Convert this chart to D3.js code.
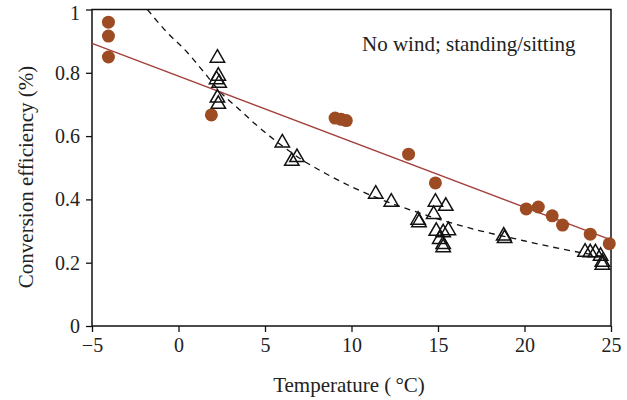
<!DOCTYPE html>
<html>
<head>
<meta charset="utf-8">
<script src="https://cdn.jsdelivr.net/npm/d3@7"></script>
<style>
  html, body { margin: 0; padding: 0; background: #fff; }
  svg { display: block; }
  text { font-family: "Liberation Serif", "DejaVu Serif", serif; fill: #222; }
</style>
</head>
<body>
<svg id="chart" width="627" height="400"></svg>
<script>
// Brown circles (temperature °C, efficiency %)
const circleX = [-4.05, -4.05, -4.05, 1.9, 9.05, 9.4, 9.7, 13.3, 14.85, 20.1, 20.8, 21.6, 22.2, 23.8, 24.9];
const circleY = [0.96, 0.916, 0.85, 0.667, 0.657, 0.653, 0.649, 0.543, 0.452, 0.37, 0.376, 0.348, 0.319, 0.29, 0.26];

// Open triangles
const triX = [2.25, 2.3, 2.2, 2.35, 2.25, 2.3, 6.0, 6.85, 6.55, 11.4, 12.3, 13.85, 13.9,
              14.85, 15.45, 14.75, 14.9, 15.3, 15.6, 15.1, 15.3, 15.3, 18.8, 18.85,
              23.5, 23.8, 24.1, 24.4, 24.5, 24.5];
const triY = [0.85, 0.793, 0.782, 0.771, 0.724, 0.704, 0.582, 0.536, 0.524, 0.42, 0.395, 0.338, 0.33,
              0.395, 0.382, 0.356, 0.303, 0.298, 0.305, 0.277, 0.261, 0.251, 0.288, 0.28,
              0.237, 0.235, 0.235, 0.224, 0.205, 0.196];

// Dashed fitted curve
const curveX = [-1.8, -0.7, 0.5, 1.5, 2.4, 3.5, 4.5, 5.5, 7, 8.5, 10, 11.7, 13.5, 15.5, 17.5, 19.5, 22, 24.7];
const curveY = [1.0, 0.93, 0.865, 0.80, 0.74, 0.685, 0.635, 0.59, 0.53, 0.482, 0.44, 0.40, 0.365, 0.33, 0.30, 0.275, 0.245, 0.218];

// Straight red trend line (end points)
const lineX = [-5, 25];
const lineY = [0.893, 0.272];

const xTicks = [-5, 0, 5, 10, 15, 20, 25];
const yTicks = [0, 0.2, 0.4, 0.6, 0.8, 1];
const xTitle = "Temperature (\u2009\u00B0C)";
const yTitle = "Conversion efficiency (%)";
const note = "No wind; standing/sitting";

const W = 627, H = 400;
const m = { left: 92, right: 16, top: 9.5, bottom: 74 };
const svg = d3.select("#chart");

const x = d3.scaleLinear().domain([-5, 25]).range([m.left, W - m.right]);
const y = d3.scaleLinear().domain([0, 1]).range([H - m.bottom, m.top]);

// Axes
const xAxis = svg.append("g").attr("transform", `translate(0,${H - m.bottom})`)
  .call(d3.axisBottom(x).tickValues(xTicks).tickSize(6).tickPadding(6).tickFormat(d3.format("d")));
const yAxis = svg.append("g").attr("transform", `translate(${m.left},0)`)
  .call(d3.axisLeft(y).tickValues(yTicks).tickSize(6).tickPadding(6).tickFormat(d => d === 0 ? "0" : d === 1 ? "1" : d3.format(".1f")(d)));
[xAxis, yAxis].forEach(g => {
  g.select(".domain").remove();
  g.selectAll(".tick line").attr("stroke", "#111").attr("stroke-width", 1.3);
  g.selectAll(".tick text").style("font-size", "20px").style("font-family", '"Liberation Serif", serif').attr("fill", "#222");
});
// keep the top label inside the picture
yAxis.selectAll(".tick text").filter(d => d === 1).attr("dy", "0.5em");

// Frame
svg.append("rect")
  .attr("x", x(-5)).attr("y", y(1))
  .attr("width", x(25) - x(-5)).attr("height", y(0) - y(1))
  .attr("fill", "none").attr("stroke", "#111").attr("stroke-width", 1.5);

// Dashed curve
const curvePts = curveX.map((v, i) => [v, curveY[i]]);
svg.append("path")
  .attr("d", d3.line().x(d => x(d[0])).y(d => y(d[1])).curve(d3.curveMonotoneX)(curvePts))
  .attr("fill", "none").attr("stroke", "#111").attr("stroke-width", 1.3)
  .attr("stroke-dasharray", "6,5");

// Red trend line
svg.append("line")
  .attr("x1", x(lineX[0])).attr("y1", y(lineY[0]))
  .attr("x2", x(lineX[1])).attr("y2", y(lineY[1]))
  .attr("stroke", "#a3403c").attr("stroke-width", 1.4);

// Triangles
const tri = d3.symbol().type(d3.symbolTriangle).size(90);
svg.append("g").selectAll("path").data(triX.map((v, i) => [v, triY[i]])).join("path")
  .attr("d", tri)
  .attr("transform", d => `translate(${x(d[0])},${y(d[1]) + 1})`)
  .attr("fill", "none")
  .attr("stroke", "#111").attr("stroke-width", 1.5);

// Circles
svg.append("g").selectAll("circle").data(circleX.map((v, i) => [v, circleY[i]])).join("circle")
  .attr("cx", d => x(d[0])).attr("cy", d => y(d[1])).attr("r", 6.5)
  .attr("fill", "#9c4b22");

// Note
svg.append("text").attr("x", 362).attr("y", 51).style("font-size", "21px").text(note);

// Axis titles
svg.append("text").attr("x", 349).attr("y", 392)
  .attr("text-anchor", "middle").style("font-size", "21px").text(xTitle);
svg.append("text").attr("transform", `translate(33,177) rotate(-90)`)
  .attr("text-anchor", "middle").style("font-size", "21px").text(yTitle);
</script>
</body>
</html>
